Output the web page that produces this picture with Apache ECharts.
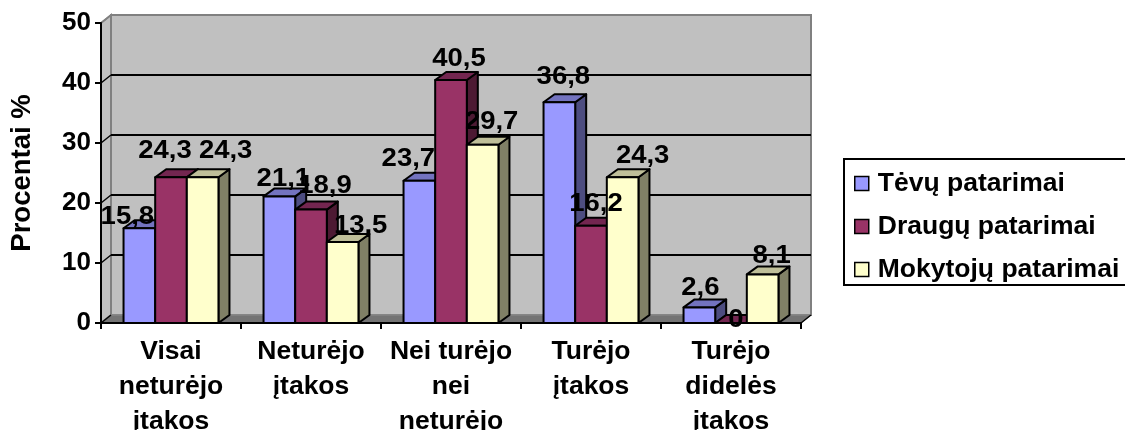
<!DOCTYPE html>
<html><head><meta charset="utf-8">
<style>html,body{margin:0;padding:0;background:#fff;overflow:hidden}#c{width:1125px;height:430px}</style>
<script src="https://cdn.jsdelivr.net/npm/echarts@6/dist/echarts.min.js"></script>
</head><body><div id="c"></div>
<script>
const categories = ['Visai\nneturėjo\nįtakos','Neturėjo\nįtakos','Nei turėjo\nnei\nneturėjo','Turėjo\nįtakos','Turėjo\ndidelės\nįtakos'];
const yTicks = [0,10,20,30,40,50];
const tevu = [15.8,21.1,23.7,36.8,2.6];
const draugu = [24.3,18.9,40.5,16.2,0];
const mokytoju = [24.3,13.5,29.7,24.3,8.1];
const seriesNames = ['Tėvų patarimai','Draugų patarimai','Mokytojų patarimai'];
const seriesValues = [tevu,draugu,mokytoju];
const frontColors = ['#9999FF','#993366','#FFFFCC'];
const topColors = ['#7373BF','#732650','#BFBF99'];
const sideColors = ['#4D4D80','#4D1A33','#808066'];
// label nudges relative to the top-centre of each bar (the source labels were hand placed)
const labelDX = [[-12,4,-11,4,1],[-6,14,8,5,5],[23,18,9,20,9]];
const labelDY = [[-11,-17,-22,-25,-19],[-26,-23,-21,-22,-3],[-26,-16,-23,-21,-18]];
const FONT = '"Liberation Sans", Arial, sans-serif';
const BAR_FRAC = 0.226, DX = 11, DY = 8, WX = 10, WY = 8;

function wallItem(params, api){
  const g = params.coordSys, v = api.value(1);
  const L = g.x, R = g.x+g.width, B = g.y+g.height, T = g.y;
  const y = api.coord([0,v])[1];
  const kids = [];
  if (params.dataIndex === 0){
    kids.push({type:'polygon',shape:{points:[[L+WX,T-WY],[R+WX,T-WY],[R+WX,B-WY],[L+WX,B-WY]]},style:{fill:'#C0C0C0',stroke:'#808080',lineWidth:2}});
    kids.push({type:'polygon',shape:{points:[[L,T],[L+WX,T-WY],[L+WX,B-WY],[L,B]]},style:{fill:'#C0C0C0',stroke:'#808080',lineWidth:2}});
    kids.push({type:'polygon',shape:{points:[[L,B],[R,B],[R+WX,B-WY],[L+WX,B-WY]]},style:{fill:'#747474',stroke:'#8C8C8C',lineWidth:1}});
    kids.push({type:'line',shape:{x1:R,y1:B,x2:R+WX,y2:B-WY},style:{stroke:'#000',lineWidth:1.5}});
  }
  const top = v === yTicks[yTicks.length-1];
  if (!top && v !== yTicks[0]) kids.push({type:'line',shape:{x1:L+WX,y1:y-WY,x2:R+WX,y2:y-WY},style:{stroke:'#000',lineWidth:2}});
  kids.push({type:'line',shape:{x1:L,y1:y,x2:L+WX,y2:y-WY},style:{stroke:top?'#808080':'#000',lineWidth:1.5}});
  return {type:'group',children:kids};
}
function barGeom(si, c, v, api){
  const band = api.size([1,0])[0], w = band*BAR_FRAC;
  const pt = api.coord([c,v]), base = api.coord([c,0]);
  const x0 = pt[0] - 1.5*w + si*w;
  return {x0, x1:x0+w, yT:pt[1], yB:base[1]};
}
function barItem(si){
  return function(params, api){
    const {x0,x1,yT,yB} = barGeom(si, api.value(0), api.value(1), api);
    const st = {stroke:'#000',lineWidth:2,lineJoin:'round'};
    return {type:'group',children:[
      {type:'polygon',shape:{points:[[x1,yB],[x1+DX,yB-DY],[x1+DX,yT-DY],[x1,yT]]},style:Object.assign({fill:sideColors[si]},st)},
      {type:'polygon',shape:{points:[[x0,yT],[x1,yT],[x1+DX,yT-DY],[x0+DX,yT-DY]]},style:Object.assign({fill:topColors[si]},st)},
      {type:'rect',shape:{x:x0,y:yT,width:x1-x0,height:yB-yT},style:Object.assign({fill:frontColors[si]},st)}
    ]};
  };
}
function labelItem(params, api){
  const si = api.value(0), k = api.value(1), v = api.value(2);
  const {x0,x1,yT} = barGeom(si, k, v, api);
  return {type:'text',x:(x0+x1)/2+labelDX[si][k],y:yT+labelDY[si][k],scaleX:1.1,
    style:{text:String(v).replace('.',','),fill:'#000',font:'bold 25px '+FONT,align:'center',verticalAlign:'middle'}};
}
const series = [{type:'custom',name:'sienos',z:1,silent:true,clip:false,data:yTicks.map(v=>[0,v]),encode:{x:0,y:1},renderItem:wallItem}];
seriesNames.forEach((n,i)=>series.push({type:'custom',name:n,z:2+i,clip:false,
  itemStyle:{color:frontColors[i]},encode:{x:0,y:1},
  data:seriesValues[i].map((v,k)=>[k,v]),renderItem:barItem(i)}));
const labelRows = [];
seriesValues.forEach((vals,si)=>vals.forEach((v,k)=>labelRows.push([si,k,v])));
series.push({type:'custom',name:'reiksmes',z:20,silent:true,clip:false,encode:{x:1,y:2},data:labelRows,renderItem:labelItem});

const chart = echarts.init(document.getElementById('c'),null,{renderer:'canvas'});
chart.setOption({
  animation:false,backgroundColor:'#fff',
  textStyle:{fontFamily:FONT},
  grid:{left:101,right:324,top:23,bottom:107,containLabel:false,outerBoundsMode:'none'},
  xAxis:{type:'category',data:categories,z:10,
    axisLine:{lineStyle:{color:'#000',width:2}},axisTick:{show:true,length:6,lineStyle:{color:'#000',width:2}},
    axisLabel:{color:'#000',fontWeight:'bold',fontSize:26.5,lineHeight:35,margin:11,interval:0,fontFamily:FONT},splitLine:{show:false}},
  yAxis:{type:'value',min:0,max:50,interval:10,z:10,name:'Procentai %',nameLocation:'middle',nameRotate:90,nameGap:65,
    nameTextStyle:{color:'#000',fontWeight:'bold',fontSize:27.5,fontFamily:FONT},
    axisLine:{show:true,lineStyle:{color:'#000',width:2}},axisTick:{show:true,length:6,lineStyle:{color:'#000',width:2}},
    axisLabel:{color:'#000',fontWeight:'bold',fontSize:26,margin:10,fontFamily:FONT},splitLine:{show:false}},
  legend:{left:844,top:159,orient:'vertical',itemWidth:14,itemHeight:14,itemGap:16,icon:'rect',selectedMode:false,
    padding:[11,30,2,10],borderColor:'#000',borderWidth:2,backgroundColor:'#fff',
    textStyle:{color:'#000',fontWeight:'bold',fontSize:26.5,fontFamily:FONT,padding:[0,0,0,4]},
    data:seriesNames.map((n,i)=>({name:n,icon:'rect',itemStyle:{color:frontColors[i],borderColor:'#000',borderWidth:1.5}}))},
  series:series
});
</script></body></html>
